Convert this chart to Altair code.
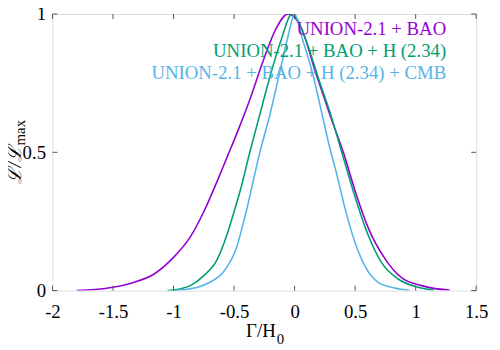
import altair as alt
import pandas as pd

# ---- data ----
series_names = ["UNION-2.1 + BAO", "UNION-2.1 + BAO + H (2.34)", "UNION-2.1 + BAO + H (2.34) + CMB"]
colors = ["#9400d3", "#009e73", "#56b4e9"]

x_bao = [-1.80, -1.65, -1.50, -1.35, -1.16, -1.00, -0.86, -0.75, -0.64, -0.56, -0.48, -0.37,
         -0.26, -0.15, -0.055, 0.05, 0.175, 0.30, 0.41, 0.50, 0.61, 0.75, 0.88, 1.05, 1.15, 1.28]
L_bao = [0.0, 0.004, 0.012, 0.027, 0.06, 0.12, 0.195, 0.285, 0.395, 0.48, 0.565, 0.69,
         0.83, 0.95, 1.0, 0.955, 0.787, 0.625, 0.49, 0.36, 0.225, 0.113, 0.048, 0.018, 0.008, 0.002]

x_h = [-1.05, -0.95, -0.86, -0.75, -0.64, -0.56, -0.50, -0.45, -0.37, -0.29, -0.21, -0.12,
       -0.02, 0.09, 0.20, 0.31, 0.39, 0.49, 0.60, 0.72, 0.855, 1.02, 1.15]
L_h = [0.0, 0.006, 0.018, 0.054, 0.112, 0.20, 0.285, 0.36, 0.50, 0.632, 0.763, 0.894,
       1.0, 0.91, 0.763, 0.62, 0.50, 0.352, 0.209, 0.10, 0.042, 0.012, 0.002]

x_cmb = [-1.00, -0.90, -0.80, -0.70, -0.59, -0.48, -0.40, -0.287, -0.206, -0.124, -0.055, 0.0,
         0.067, 0.148, 0.23, 0.30, 0.34, 0.42, 0.50, 0.58, 0.69, 0.83, 0.95]
L_cmb = [0.0, 0.004, 0.012, 0.03, 0.066, 0.155, 0.285, 0.50, 0.632, 0.787, 0.918, 1.0,
         0.906, 0.787, 0.632, 0.50, 0.435, 0.292, 0.173, 0.089, 0.03, 0.009, 0.0]

x_ticks = [-2, -1.5, -1, -0.5, 0, 0.5, 1, 1.5]
y_ticks = [0, 0.5, 1]

# ---- build table ----
rows = []
for name, xs, ls in zip(series_names, [x_bao, x_h, x_cmb], [L_bao, L_h, L_cmb]):
    for i, (a, b) in enumerate(zip(xs, ls)):
        rows.append({"series": name, "x": a, "L": b, "order": i})
df = pd.DataFrame(rows)

FONT = "Liberation Serif, Times New Roman, DejaVu Serif, serif"
W, H = 429, 280
xscale = alt.Scale(domain=[-2, 1.5], nice=False, zero=False)
yscale = alt.Scale(domain=[0, 1], nice=False, zero=False)

xaxis = alt.Axis(values=x_ticks, ticks=False, domain=False, grid=False, title=None,
                 labelFont=FONT, labelFontSize=19, labelColor="black", labelPadding=12,
                 labelFlush=False, labelOverlap=False, labelExpr="'' + datum.value")
yaxis = alt.Axis(values=y_ticks, ticks=False, domain=False, grid=False, title=None,
                 labelFont=FONT, labelFontSize=19, labelColor="black", labelPadding=7,
                 labelFlush=False, labelOverlap=False, labelExpr="'' + datum.value")

lines = alt.Chart(df).mark_line(strokeWidth=1.6, interpolate="monotone", clip=True).encode(
    x=alt.X("x:Q", scale=xscale, axis=xaxis),
    y=alt.Y("L:Q", scale=yscale, axis=yaxis),
    color=alt.Color("series:N", scale=alt.Scale(domain=series_names, range=colors), legend=None),
    order="order:Q",
)

xt = pd.DataFrame({"x": x_ticks})
yt = pd.DataFrame({"L": y_ticks})
tick_col = "#555555"
bottom_ticks = alt.Chart(xt).mark_rule(color=tick_col, strokeWidth=1).encode(
    x=alt.X("x:Q", scale=xscale, axis=xaxis), y=alt.value(H), y2=alt.value(H - 5))
top_ticks = alt.Chart(xt).mark_rule(color=tick_col, strokeWidth=1).encode(
    x=alt.X("x:Q", scale=xscale, axis=xaxis), y=alt.value(0), y2=alt.value(5))
left_ticks = alt.Chart(yt).mark_rule(color=tick_col, strokeWidth=1).encode(
    y=alt.Y("L:Q", scale=yscale, axis=yaxis), x=alt.value(0), x2=alt.value(5))
right_ticks = alt.Chart(yt).mark_rule(color=tick_col, strokeWidth=1).encode(
    y=alt.Y("L:Q", scale=yscale, axis=yaxis), x=alt.value(W), x2=alt.value(W - 5))

one = pd.DataFrame({"a": [0]})
label_y = [0.924, 0.844, 0.765]
labels = []
for name, col, ly in zip(series_names, colors, label_y):
    labels.append(
        alt.Chart(one).mark_text(font=FONT, fontSize=19, align="right", baseline="alphabetic", color=col).encode(
            x=alt.datum(1.252, scale=xscale), y=alt.datum(ly, scale=yscale), text=alt.value(name))
    )

xtitle = alt.Chart(one).mark_text(font=FONT, fontSize=19, align="right", baseline="alphabetic", color="black").encode(
    x=alt.value(226), y=alt.value(327), text=alt.value("Γ/H"))
xsub = alt.Chart(one).mark_text(font=FONT, fontSize=15, align="left", baseline="alphabetic", color="black").encode(
    x=alt.value(227), y=alt.value(334), text=alt.value("0"))
ytitle = alt.Chart(one).mark_text(font=FONT, fontSize=19, fontStyle="italic", align="right", baseline="alphabetic",
                                  angle=270, color="black").encode(
    x=alt.value(-32), y=alt.value(134), text=alt.value("ℒ/ℒ"))
ysub = alt.Chart(one).mark_text(font=FONT, fontSize=15, align="left", baseline="alphabetic",
                                angle=270, color="black").encode(
    x=alt.value(-28), y=alt.value(133), text=alt.value("max"))

chart = alt.layer(
    lines, bottom_ticks, top_ticks, left_ticks, right_ticks, *labels, xtitle, xsub, ytitle, ysub
).properties(
    width=W, height=H,
    autosize=alt.AutoSizeParams(type="none"),
    padding={"left": 45, "top": 4, "right": 16, "bottom": 56},
).configure_view(stroke="black", strokeWidth=1.2).configure(background="white")

chart.save("out.html", embed_options={"renderer": "svg", "actions": False})
